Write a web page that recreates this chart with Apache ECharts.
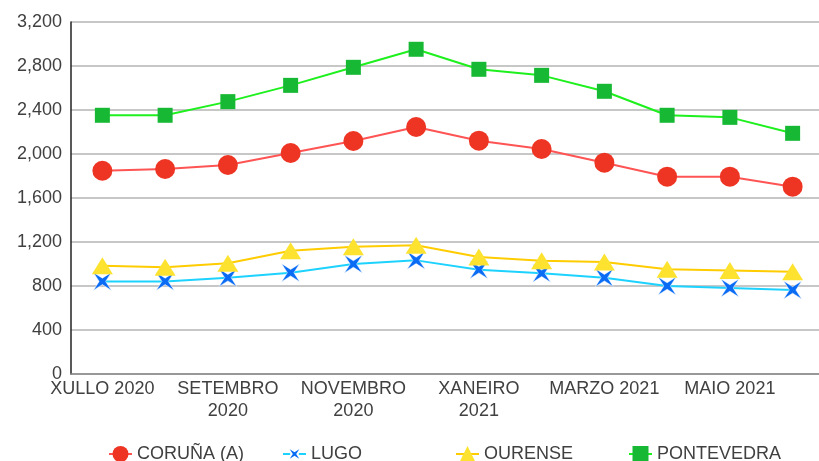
<!DOCTYPE html>
<html>
<head>
<meta charset="utf-8">
<script src="https://cdn.jsdelivr.net/npm/echarts@6/dist/echarts.min.js"></script>
<style>
  html, body { margin: 0; padding: 0; background: #fff; }
  #chart { width: 819px; height: 461px; }
</style>
</head>
<body>
<div id="chart"></div>
<script>
// meses (xullo 2020 - xuño 2021)
const months = ["XULLO 2020", "AGOSTO 2020", "SETEMBRO\n2020", "OUTUBRO 2020", "NOVEMBRO\n2020", "DECEMBRO 2020",
  "XANEIRO\n2021", "FEBREIRO 2021", "MARZO 2021", "ABRIL 2021", "MAIO 2021", "XUÑO 2021"];
const yTicks = [0, 400, 800, 1200, 1600, 2000, 2400, 2800, 3200];

const coruna = [1848, 1864, 1900, 2009, 2118, 2245, 2121, 2045, 1921, 1794, 1794, 1703];
const lugo = [842, 842, 876, 921, 1000, 1033, 948, 915, 876, 800, 782, 764];
const ourense = [985, 970, 1006, 1121, 1157, 1170, 1064, 1030, 1018, 952, 942, 930];
const pontevedra = [2352, 2352, 2476, 2624, 2788, 2952, 2770, 2715, 2570, 2352, 2333, 2188];

const names = ["CORUÑA (A)", "LUGO", "OURENSE", "PONTEVEDRA"];

const font = "Liberation Sans, Arial, sans-serif";
const star = "path://M0,0 L0.5,0.32 L1,0 L0.68,0.5 L1,1 L0.5,0.68 L0,1 L0.32,0.5 Z";

var myChart = echarts.init(document.getElementById("chart"));

function legend(name, left) {
  return {
    data: [name],
    left: left,
    top: 440,
    itemWidth: 23,
    itemHeight: 20,
    textStyle: { fontFamily: font, fontSize: 18, color: "#404040" },
    itemGap: 0
  };
}

myChart.setOption({
  animation: false,
  textStyle: { fontFamily: font },
  grid: { left: 71, top: 22, width: 753, bottom: 87, outerBoundsMode: "none", containLabel: false },
  legend: [legend(names[0], 103), legend(names[1], 277), legend(names[2], 450), legend(names[3], 623)],
  xAxis: {
    type: "category",
    data: months,
    boundaryGap: true,
    axisTick: { show: false },
    axisLine: { lineStyle: { color: "#898989", width: 1.5 } },
    axisLabel: {
      interval: 1,
      margin: 4,
      fontSize: 18,
      lineHeight: 22,
      color: "#404040",
      fontFamily: font
    }
  },
  yAxis: {
    type: "value",
    min: yTicks[0],
    max: yTicks[yTicks.length - 1],
    interval: 400,
    axisLine: { show: true, lineStyle: { color: "#222", width: 1.5 } },
    axisTick: { show: false },
    splitLine: { lineStyle: { color: "#b4b4b4", width: 1.5 } },
    axisLabel: {
      margin: 9,
      fontSize: 18,
      color: "#404040",
      fontFamily: font,
      formatter: function (v) { return v.toLocaleString("en-US"); }
    }
  },
  series: [
    {
      name: names[0], type: "line", data: coruna,
      symbol: "circle", symbolSize: 20,
      lineStyle: { color: "#ff5454", width: 2 },
      itemStyle: { color: "#ee3524" }
    },
    {
      name: names[1], type: "line", data: lugo,
      symbol: star, symbolSize: 18,
      lineStyle: { color: "#1ed2ff", width: 2 },
      itemStyle: { color: "#0a6cf5", borderColor: "#fff", borderWidth: 0.5 }
    },
    {
      name: names[2], type: "line", data: ourense,
      symbol: "triangle", symbolSize: [21, 17],
      lineStyle: { color: "#ffcc00", width: 2 },
      itemStyle: { color: "#fde330" }
    },
    {
      name: names[3], type: "line", data: pontevedra,
      symbol: "rect", symbolSize: 15,
      lineStyle: { color: "#1ef01e", width: 2 },
      itemStyle: { color: "#17b934" }
    }
  ]
});
</script>
</body>
</html>
